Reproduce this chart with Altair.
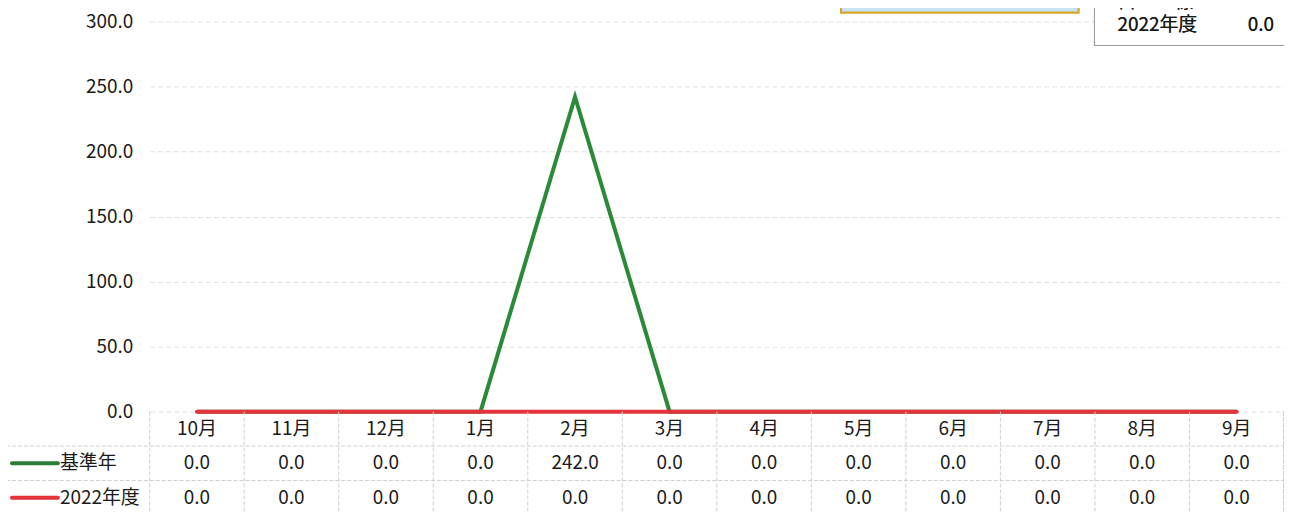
import altair as alt
import pandas as pd

# ---- data ----
months = ["10月", "11月", "12月", "1月", "2月", "3月", "4月", "5月", "6月", "7月", "8月", "9月"]
base_values = [0.0, 0.0, 0.0, 0.0, 242.0, 0.0, 0.0, 0.0, 0.0, 0.0, 0.0, 0.0]
fy2022_values = [0.0, 0.0, 0.0, 0.0, 0.0, 0.0, 0.0, 0.0, 0.0, 0.0, 0.0, 0.0]
series_names = ["基準年", "2022年度"]
y_ticks = [0, 50, 100, 150, 200, 250, 300]
box_labels = ["目　　標", "2022年度"]
box_values = [242.0, 0.0]

# ---- style ----
FONT = "Noto Sans CJK JP"
FS = 19
GREEN = "#2b8a3a"
RED = "#e5333b"
GRID = "#e0e0e0"
W, H, ROW = 1137, 391, 34.5
TXT = "#1a1a1a"

line_df = pd.DataFrame({"month": months, "base": base_values, "fy": fy2022_values})

row_keys = ["header"] + series_names
rows_txt = []
for i, m in enumerate(months):
    rows_txt.append({"month": m, "row": "header", "label": m})
    rows_txt.append({"month": m, "row": series_names[0], "label": f"{base_values[i]:.1f}"})
    rows_txt.append({"month": m, "row": series_names[1], "label": f"{fy2022_values[i]:.1f}"})
table_df = pd.DataFrame(rows_txt)
series_df = pd.DataFrame({"row": series_names})
month_df = pd.DataFrame({"month": months})

xscale = alt.Scale(type="band", domain=months, paddingInner=0, paddingOuter=0)
x_c = alt.X("month:N", scale=xscale, bandPosition=0.5, axis=None)
x_edge = alt.X("month:N", scale=xscale, bandPosition=0, axis=None)

yscale = alt.Scale(domain=[0, 300], nice=False, zero=True)
y_axis = alt.Axis(values=y_ticks, format=".1f", title=None, ticks=False, domain=False,
                  grid=True, gridColor=GRID, gridDash=[5, 3], labelFont=FONT,
                  labelFontSize=FS, labelColor=TXT, labelPadding=17)

rowscale = alt.Scale(type="band", domain=row_keys, range=[H, H + 3 * ROW],
                     paddingInner=0, paddingOuter=0)
y_row_c = alt.Y("row:N", scale=rowscale, bandPosition=0.5, axis=None)
y_row_edge = alt.Y("row:N", scale=rowscale, bandPosition=0, axis=None)

base_line = alt.Chart(line_df).mark_line(color=GREEN, strokeWidth=4, strokeJoin="miter").encode(
    x=x_c, y=alt.Y("base:Q", scale=yscale, axis=y_axis))
fy_line = alt.Chart(line_df).mark_line(color=RED, strokeWidth=4, strokeCap="round").encode(
    x=x_c, y=alt.Y("fy:Q", scale=yscale, axis=None))

# table frame
FRAME = "#cfcfcf"
vlines = alt.Chart(month_df).mark_rule(color=FRAME, strokeDash=[4, 2], strokeWidth=1).encode(
    x=x_edge, y=alt.value(H), y2=alt.value(H + 3 * ROW + 20))
vline_right = alt.Chart(month_df).mark_rule(color=FRAME, strokeDash=[4, 2], strokeWidth=1).encode(
    x=alt.value(W), y=alt.value(H), y2=alt.value(H + 3 * ROW + 20))
hlines = alt.Chart(series_df).mark_rule(color=FRAME, strokeDash=[4, 2], strokeWidth=1).encode(
    y=y_row_edge, x=alt.value(-150), x2=alt.value(W))

cells = alt.Chart(table_df).mark_text(font=FONT, fontSize=FS, color=TXT, align="center",
                                      baseline="middle").encode(
    x=x_c, y=y_row_c, text="label:N")

legend_lines = alt.Chart(series_df).mark_rule(strokeWidth=4, strokeCap="round").encode(
    x=alt.value(-138), x2=alt.value(-92), y=y_row_c,
    color=alt.Color("row:N", scale=alt.Scale(domain=series_names, range=["#2b7d3a", RED]), legend=None))
legend_names = alt.Chart(series_df).mark_text(font=FONT, fontSize=FS, color=TXT, align="left",
                                              baseline="middle").encode(
    x=alt.value(-90), y=y_row_c, text="row:N")

# title box at the top (only its lower edge shows)
title_box = alt.Chart(series_df).mark_rect(fill="#c6e2f5", stroke="#d9a52c", strokeWidth=2).encode(
    x=alt.value(693), x2=alt.value(931), y=alt.value(-60), y2=alt.value(-9))

# top-right summary box (cut off at the top of the picture)
box = alt.Chart(series_df).mark_rect(fill="white", stroke="#9a9a9a", strokeWidth=1).encode(
    x=alt.value(947), x2=alt.value(1170), y=alt.value(-60), y2=alt.value(24))
box_layers = [title_box, box]
for i, (lab, val) in enumerate(zip(box_labels, box_values)):
    yv = 3 - 23 * (len(box_labels) - 1 - i)
    box_layers.append(alt.Chart(series_df).mark_text(font=FONT, fontSize=FS, color=TXT, align="left",
                                                     baseline="middle", text=lab).encode(
        x=alt.value(970), y=alt.value(yv)))
    box_layers.append(alt.Chart(series_df).mark_text(font=FONT, fontSize=FS, color=TXT, align="right",
                                                     baseline="middle", text=f"{val:.1f}").encode(
        x=alt.value(1127), y=alt.value(yv)))

chart = alt.layer(
    base_line, fy_line, vlines, vline_right, hlines, cells, legend_lines, legend_names, *box_layers
).resolve_scale(y="independent").properties(
    width=W, height=H,
    autosize=alt.AutoSizeParams(type="none"),
    padding={"left": 142, "top": 13, "right": 0, "bottom": 101},
).configure_view(stroke=None)

chart.save("out.html", embed_options={"renderer": "svg", "actions": False})
